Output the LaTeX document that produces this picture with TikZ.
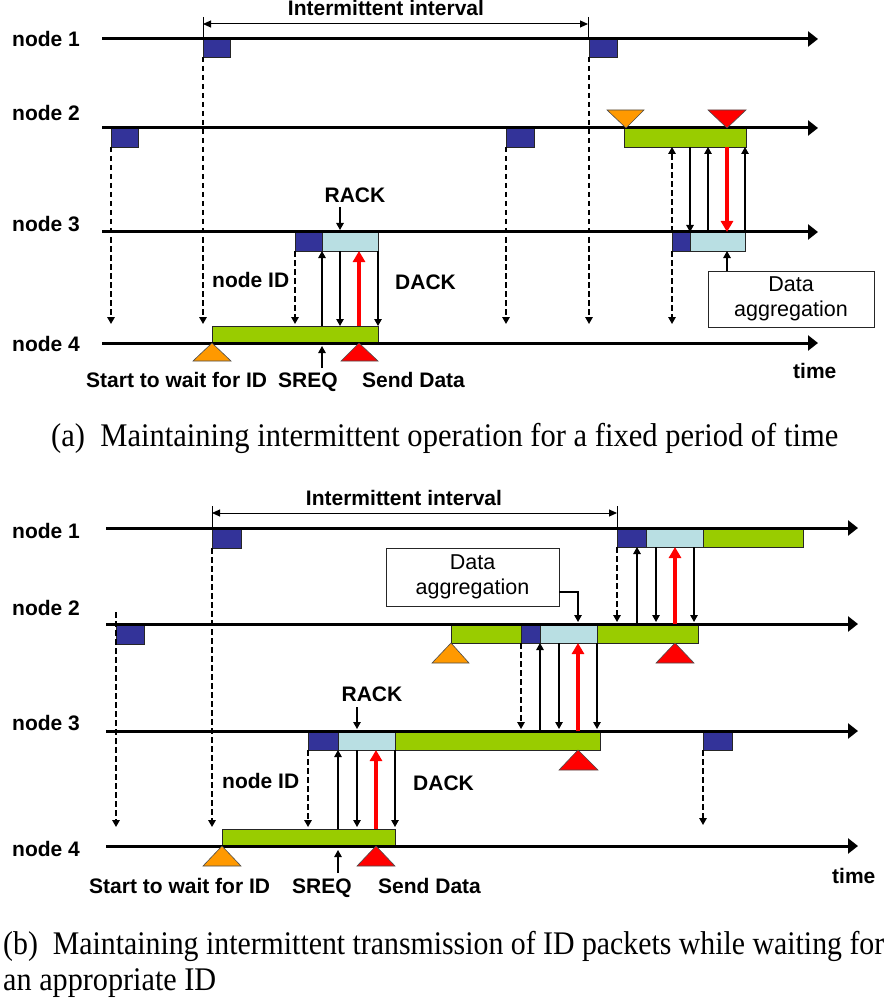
\documentclass[tikz,border=0pt]{standalone}
\usepackage{fontspec}
\setmainfont{Liberation Serif}
\setsansfont{Liberation Sans}
\usetikzlibrary{arrows.meta}
\definecolor{idblue}{HTML}{333399}
\definecolor{ackblue}{HTML}{B9DFE3}
\definecolor{waitgreen}{HTML}{99CC00}
\definecolor{startorange}{HTML}{FF9900}
\definecolor{sendred}{HTML}{FF0000}
\newcommand\pbox[6]{\node[bx, fill=#6, anchor=north west, minimum width={(#4-#2)*1pt}, minimum height={(#5-#3)*1pt}] (#1) at (#2,#3) {};}
\begin{document}
\begin{tikzpicture}[x=1pt,y=-1pt,
  lbl/.style={font=\fontsize{21}{24}\selectfont\sffamily\bfseries, inner sep=0, anchor=base west},
  clbl/.style={lbl, anchor=base},
  bx/.style={draw=black!85, line width=0.8pt, inner sep=0, outer sep=0},
  tl/.style={line width=3pt, -{Triangle[length=10pt,width=15pt]}},
  ar/.style={line width=1.2pt, -{Triangle[length=7pt,width=7.5pt]}},
  da/.style={line width=1.5pt, dash pattern=on 5.5pt off 3.5pt, -{Triangle[length=7pt,width=7.5pt]}},
  rd/.style={line width=4pt, draw=sendred, -{Triangle[length=11pt,width=12pt]}},
  iv/.style={line width=1pt, {Triangle[length=8pt,width=7pt]}-{Triangle[length=8pt,width=7pt]}},
  tk/.style={line width=1pt},
  tri/.style={draw=black!70, line width=0.6pt},
  agg/.style={draw=black!85, line width=0.9pt, align=center, inner sep=0, font=\fontsize{21.5}{25}\selectfont\sffamily},
  captxt/.style={inner sep=0, anchor=base west}
]
\useasboundingbox (0,0) rectangle (887,1000);

% ================= (a) =================
\pbox{a1p}{203}{39}{230}{57}{idblue}
\pbox{a1q}{589}{39}{617}{57}{idblue}
\pbox{a2p}{111}{128}{138}{147}{idblue}
\pbox{a2q}{506}{128}{534}{147}{idblue}
\pbox{a2w}{624}{128}{746}{147}{waitgreen}
\pbox{a3p}{295}{232}{322}{251}{idblue}
\pbox{a3r}{322}{232}{378}{251}{ackblue}
\pbox{a3q}{672}{232}{690}{251}{idblue}
\pbox{a3s}{690}{232}{745}{251}{ackblue}
\pbox{a4w}{212}{326}{378}{343}{waitgreen}
\coordinate (a1s) at (102,39);  \coordinate (a1e) at (818,39);
\coordinate (a2s) at (102,128); \coordinate (a2e) at (818,128);
\coordinate (a3s) at (102,232); \coordinate (a3e) at (818,232);
\coordinate (a4s) at (102,343); \coordinate (a4e) at (818,343);
\draw[tl] (a1s) -- (a1e);
\draw[tl] (a2s) -- (a2e);
\draw[tl] (a3s) -- (a3e);
\draw[tl] (a4s) -- (a4e);
\draw[tri, fill=startorange] (607,110) -- (644,110) -- (626,128) -- cycle;
\draw[tri, fill=sendred] (708,110) -- (746,110) -- (727,128) -- cycle;
\draw[tri, fill=startorange] (193,361) -- (231,361) -- (212,343) -- cycle;
\draw[tri, fill=sendred] (341,361) -- (378,361) -- (359,343) -- cycle;
\draw[tk] (203,17) -- (203,39);
\draw[tk] (588,17) -- (588,39);
\draw[iv] (203,24) -- (588,24);
\node[clbl] (aint) at (386,16) {Intermittent interval};
\draw[da] (a2p.south west) -- (111,324);
\draw[da] (a1p.south west) -- (203,324);
\draw[da] (a2q.south west) -- (506,324);
\draw[da] (a1q.south west) -- (589,324);
\draw[da] (a3q.south west) -- (672,324);
\draw[da] (a3p.south west) -- (295,324);
\draw[ar] (322,326) -- (322,251);
\draw[ar] (340,251) -- (340,326);
\draw[rd] (359,326) -- (359,251);
\draw[ar] (378,251) -- (378,326);
\draw[da] (672,232) -- (672,147);
\draw[ar] (690,147) -- (690,232);
\draw[ar] (708,232) -- (708,147);
\draw[rd] (727,147) -- (727,232);
\draw[ar] (745,232) -- (745,147);
\node[agg, minimum width=166pt, minimum height=56pt] (aagg) at (791,299) {Data\\aggregation};
\draw[ar] (727,271) -- (727,251);
\node[lbl] (an1) at (12,47) {node 1};
\node[lbl] (an2) at (12,121) {node 2};
\node[lbl] (an3) at (12,232) {node 3};
\node[lbl] (an4) at (12,351) {node 4};
\node[clbl] (arack) at (355,203) {RACK};
\draw[ar] (340,207) -- (340,230);
\node[lbl] (anid) at (212,287) {node ID};
\node[lbl] (adack) at (395,289) {DACK};
\draw[ar] (322,368) -- (322,346);
\node[lbl] (astart) at (86,387) {Start to wait for ID};
\node[lbl] (asreq) at (278,387) {SREQ};
\node[lbl] (asend) at (362,387) {Send Data};
\node[lbl] (atime) at (793,378) {time};
\node[captxt] (acap) at (51,446) {\resizebox{787pt}{\height}{\fontsize{33}{38}\selectfont (a)\ \ Maintaining intermittent operation for a fixed period of time}};

% ================= (b) =================
\pbox{b1p}{212}{528}{241}{548}{idblue}
\pbox{b1q}{617}{528}{646}{547}{idblue}
\pbox{b1r}{646}{528}{703}{547}{ackblue}
\pbox{b1w}{703}{528}{803}{547}{waitgreen}
\pbox{b2p}{116}{624}{144}{644}{idblue}
\pbox{b2w}{451}{624}{521}{643}{waitgreen}
\pbox{b2q}{521}{624}{540}{643}{idblue}
\pbox{b2r}{540}{624}{597}{643}{ackblue}
\pbox{b2v}{597}{624}{698}{643}{waitgreen}
\pbox{b3p}{308}{731}{338}{750}{idblue}
\pbox{b3r}{338}{731}{395}{750}{ackblue}
\pbox{b3w}{395}{731}{600}{750}{waitgreen}
\pbox{b3q}{703}{731}{732}{750}{idblue}
\pbox{b4w}{222}{829}{395}{846}{waitgreen}
\coordinate (b1s) at (106,528); \coordinate (b1e) at (858,528);
\coordinate (b2s) at (106,624); \coordinate (b2e) at (858,624);
\coordinate (b3s) at (106,731); \coordinate (b3e) at (858,731);
\coordinate (b4s) at (106,846); \coordinate (b4e) at (858,846);
\draw[tl] (b1s) -- (b1e);
\draw[tl] (b2s) -- (b2e);
\draw[tl] (b3s) -- (b3e);
\draw[tl] (b4s) -- (b4e);
\draw[tri, fill=startorange] (432,663) -- (469,663) -- (451,643) -- cycle;
\draw[tri, fill=sendred] (656,663) -- (694,663) -- (675,643) -- cycle;
\draw[tri, fill=sendred] (559,770) -- (598,770) -- (578,750) -- cycle;
\draw[tri, fill=startorange] (203,866) -- (241,866) -- (222,846) -- cycle;
\draw[tri, fill=sendred] (357,866) -- (395,866) -- (376,846) -- cycle;
\draw[tk] (212,506) -- (212,528);
\draw[tk] (617,506) -- (617,528);
\draw[iv] (212,513) -- (617,513);
\node[clbl] (bint) at (404,505) {Intermittent interval};
\draw[da] (116,612) -- (116,827);
\draw[da] (b1p.south west) -- (212,827);
\draw[da] (b3q.south west) -- (703,825);
\draw[da] (b1q.south west) -- (617,622);
\draw[ar] (637,624) -- (637,547);
\draw[ar] (656,547) -- (656,622);
\draw[rd] (675,624) -- (675,547);
\draw[ar] (694,547) -- (694,622);
\draw[da] (b2q.south west) -- (521,729);
\draw[ar] (540,731) -- (540,643);
\draw[ar] (559,643) -- (559,729);
\draw[rd] (578,731) -- (578,643);
\draw[ar] (597,643) -- (597,729);
\draw[da] (b3p.south west) -- (308,827);
\draw[ar] (338,829) -- (338,750);
\draw[ar] (357,750) -- (357,827);
\draw[rd] (376,829) -- (376,750);
\draw[ar] (395,750) -- (395,827);
\node[agg, minimum width=173pt, minimum height=58pt] (bagg) at (472.5,577) {Data\\aggregation};
\draw[ar] (bagg.east |- 0,592) -| (578,622);
\node[lbl] (bn1) at (12,538) {node 1};
\node[lbl] (bn2) at (12,615) {node 2};
\node[lbl] (bn3) at (12,730) {node 3};
\node[lbl] (bn4) at (12,856) {node 4};
\node[clbl] (brack) at (372,701) {RACK};
\draw[ar] (357,707) -- (357,729);
\node[lbl] (bnid) at (222,788) {node ID};
\node[lbl] (bdack) at (413,790) {DACK};
\draw[ar] (338,873) -- (338,850);
\node[lbl] (bstart) at (89,893) {Start to wait for ID};
\node[lbl] (bsreq) at (292,893) {SREQ};
\node[lbl] (bsend) at (378,893) {Send Data};
\node[lbl] (btime) at (832,883) {time};
\node[captxt] (bcap1) at (3,954) {\resizebox{881pt}{\height}{\fontsize{33}{38}\selectfont (b)\ \ Maintaining intermittent transmission of ID packets while waiting for}};
\node[captxt] (bcap2) at (3,990) {\resizebox{213pt}{\height}{\fontsize{33}{38}\selectfont an appropriate ID}};
\end{tikzpicture}
\end{document}
